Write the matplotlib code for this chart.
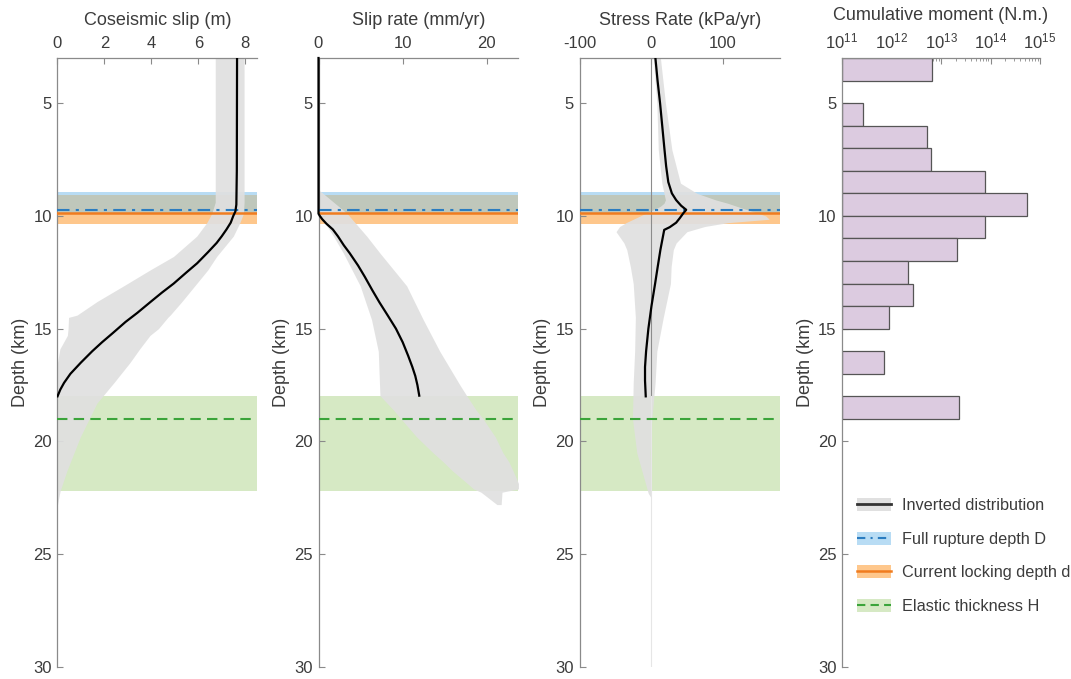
import numpy as np
import matplotlib
matplotlib.use('Agg')
import matplotlib.pyplot as plt
from matplotlib.patches import Patch
from matplotlib.lines import Line2D
from matplotlib.ticker import LogLocator, NullFormatter

plt.rcParams['font.family'] = ['Liberation Sans', 'DejaVu Sans']
plt.rcParams['axes.unicode_minus'] = False

TXT = '#3c3c3c'
SPINE = '#8a8a8a'

# coseismic slip (m) vs depth (km)
slip_depth = [3, 8, 9.5, 9.8, 10.0, 10.3, 10.6, 10.9, 11.2, 11.6, 12.1, 12.5, 13.0, 13.4, 13.8,
              14.3, 14.7, 15.2, 15.6, 16.0, 16.5, 17.0, 17.4, 17.7, 18.0]
slip_mean = [7.65, 7.64, 7.62, 7.58, 7.49, 7.38, 7.2, 7.0, 6.78, 6.42, 5.95, 5.5, 4.95, 4.45, 3.98,
             3.4, 2.9, 2.35, 1.9, 1.48, 1.0, 0.55, 0.28, 0.12, 0.0]
slip_band_depth = [3, 9.4, 9.9, 10.3, 10.9, 11.8, 12.4, 13.1, 13.8, 14.4, 14.5, 15.0, 15.3, 15.9,
                   16.5, 17.4, 18.3, 19.8, 21.3, 22.2, 22.8]
slip_hi = [7.95, 7.95, 7.92, 7.77, 7.49, 6.78, 6.4, 5.85, 5.3, 4.8, 4.7, 4.3, 3.94, 3.5,
           3.09, 2.4, 1.68, 0.97, 0.4, 0.11, 0.0]
slip_lo = [6.72, 6.72, 6.57, 6.36, 5.93, 4.94, 3.94, 2.82, 1.68, 0.83, 0.47, 0.45, 0.42, 0.1,
           0, 0, 0, 0, 0, 0, 0]

# slip rate (mm/yr)
rate_depth = [3, 9.9, 10.0, 10.15, 10.35, 10.6, 10.9, 11.3, 11.65, 12.2, 12.7, 13.3, 13.84,
              14.4, 15.0, 15.6, 16.2, 16.7, 17.1, 17.5, 17.97]
rate_mean = [0, 0, 0.15, 0.45, 0.95, 1.7, 2.3, 3.0, 3.7, 4.7, 5.5, 6.4, 7.25,
             8.2, 9.2, 10.0, 10.65, 11.15, 11.5, 11.75, 11.97]
rate_band_depth = [8.9, 9.88, 10.9, 11.65, 13.1, 14.6, 16.0, 17.5, 17.97, 18.6, 19.0, 19.8,
                   20.5, 20.9, 21.3, 21.9, 22.1, 22.25, 22.8]
rate_hi = [0.2, 3.36, 5.73, 7.3, 10.47, 12.44, 14.4, 16.8, 17.6, 18.7, 19.55, 21.0,
           21.9, 22.6, 23.1, 23.8, 23.8, 21.8, 21.7]
rate_lo = [0, 0, 1.78, 2.95, 4.95, 6.3, 7.1, 7.25, 7.3, 8.9, 9.8, 11.66,
           13.6, 14.8, 15.9, 17.8, 18.4, 19.3, 21.2]

# stress rate (kPa/yr)
stress_depth = [3, 4, 5, 6, 7, 7.8, 8.5, 9.0, 9.3, 9.55, 9.73, 9.88, 10.1, 10.3, 10.5, 10.62,
                11.5, 12.3, 13.0, 14.0, 15.0, 16.0, 16.7, 17.3, 18.0]
stress_mean = [6, 9, 12.5, 15.5, 18.5, 21, 24, 29, 35, 42, 49, 45, 40, 35, 26, 18.3,
               13, 9, 5.6, 0.5, -3.8, -7, -8.5, -8.5, -7.5]
stress_band_depth = [3, 5, 7.07, 8.55, 9.0, 9.29, 9.44, 9.58, 10.0, 10.15, 10.3, 10.47, 10.7,
                     11.2, 11.5, 12.25, 13.0, 14.5, 16.0, 17.4, 19.0, 20.5, 22.3, 22.5]
stress_hi = [13, 20, 29, 41, 64, 90, 107, 120, 160, 165, 107, 75, 50,
             35, 31, 28, 27, 17, 8, 5.6, 1, -1.4, 0, 0]
stress_lo = [3, 8, 10, 15, 18, 20, 18, 12.7, -15, -25, -35, -44, -49,
             -38, -34, -29, -25, -22, -23, -25, -26, -20, -4, 0]

# cumulative moment per 1-km depth bin (top of bin, N.m)
bin_top = [3, 5, 6, 7, 8, 9, 10, 11, 12, 13, 14, 16, 18]
moment = [6.7e12, 2.7e11, 5.2e12, 6.3e12, 7.6e13, 5.5e14, 7.9e13, 2.1e13, 2.2e12, 2.7e12,
          8.9e11, 7.1e11, 2.3e13]

# reference depths (km)
D_band = (8.93, 9.9)
D_depth = 9.73
d_band = (9.06, 10.35)
d_depth = 9.88
H_band = (18.0, 22.2)
H_depth = 19.0

C_gray = '#e0e0e0'
C_blue_band, C_blue = '#b8dcf4', '#2a7cc0'
C_orange_band, C_orange = '#fec78c', '#f07c1f'
C_green_band, C_green = '#d6e9c4', '#3ba43a'
C_overlap = '#bfc7bb'

fig = plt.figure(figsize=(10.71, 6.79), dpi=100)
W, Hpx = 1071, 679
lefts = [57.5, 318.5, 579.5, 842]
widths = [199.5, 199.5, 200.5, 198]
top_px, bot_px = 58, 667
axes = [fig.add_axes([l / W, 1 - bot_px / Hpx, w / W, (bot_px - top_px) / Hpx])
        for l, w in zip(lefts, widths)]


def style(ax, title):
    for s in ['right', 'bottom']:
        ax.spines[s].set_visible(False)
    for s in ['left', 'top']:
        ax.spines[s].set_color(SPINE)
        ax.spines[s].set_linewidth(0.9)
    ax.xaxis.set_ticks_position('top')
    ax.xaxis.set_label_position('top')
    ax.set_ylim(30, 3)
    ax.set_yticks([5, 10, 15, 20, 25, 30])
    ax.tick_params(axis='both', which='both', direction='in', colors=SPINE,
                   labelcolor=TXT, labelsize=12)
    ax.tick_params(axis='x', which='major', length=4, pad=5)
    ax.tick_params(axis='y', which='major', length=4, pad=4)
    ax.set_xlabel(title, fontsize=13, color=TXT, labelpad=8)
    ax.set_ylabel('Depth (km)', fontsize=13, color=TXT, labelpad=3)


def bands(ax):
    ax.axhspan(*D_band, color=C_blue_band, lw=0, zorder=1)
    ax.axhspan(*d_band, color=C_orange_band, lw=0, zorder=1.1)
    ax.axhspan(max(D_band[0], d_band[0]), min(D_band[1], d_band[1]),
               color=C_overlap, lw=0, zorder=1.2)
    ax.axhspan(*H_band, color=C_green_band, lw=0, zorder=1)


def ref_lines(ax):
    ax.axhline(D_depth, color=C_blue, lw=1.5, dashes=(6, 3, 1.5, 3), zorder=3)
    ax.axhline(d_depth, color=C_orange, lw=1.8, zorder=3)
    ax.axhline(H_depth, color=C_green, lw=1.5, dashes=(5, 3), zorder=3)


# panel 1
ax = axes[0]
bands(ax)
ax.fill_betweenx(slip_band_depth, slip_lo, slip_hi, color=C_gray, alpha=0.92, lw=0, zorder=2)
ref_lines(ax)
ax.plot(slip_mean, slip_depth, color='k', lw=1.6, zorder=4)
ax.set_xlim(0, 8.5)
ax.set_xticks([0, 2, 4, 6, 8])
style(ax, 'Coseismic slip (m)')

# panel 2
ax = axes[1]
bands(ax)
ax.fill_betweenx(rate_band_depth, rate_lo, rate_hi, color=C_gray, alpha=0.92, lw=0, zorder=2)
ref_lines(ax)
ax.plot(rate_mean, rate_depth, color='k', lw=1.6, zorder=4, clip_on=False)
ax.set_xlim(0, 23.7)
ax.set_xticks([0, 10, 20])
style(ax, 'Slip rate (mm/yr)')

# panel 3
ax = axes[2]
bands(ax)
ax.fill_betweenx(stress_band_depth, stress_lo, stress_hi, color=C_gray, alpha=0.92, lw=0, zorder=2)
ax.plot([0, 0], [3, 18], color='#8c8c8c', lw=0.8, zorder=2.5)
ax.plot([0, 0], [18, 30], color='#e6e6e6', lw=0.8, zorder=2.5)
ref_lines(ax)
ax.plot(stress_mean, stress_depth, color='k', lw=1.6, zorder=4)
ax.set_xlim(-100, 180)
ax.set_xticks([-100, 0, 100])
ax.set_xticklabels(['-100', '0', '100'])
style(ax, 'Stress Rate (kPa/yr)')

# panel 4
ax = axes[3]
ax.set_xscale('log')
ax.barh(bin_top, np.array(moment) - 1e11, height=1, left=1e11, align='edge',
        color='#dccbe0', edgecolor='#555555', lw=0.9, zorder=2)
ax.set_xlim(1e11, 1e15)
ax.xaxis.set_major_locator(LogLocator(base=10, numticks=10))
ax.xaxis.set_minor_locator(LogLocator(base=10, subs=np.arange(2, 10), numticks=20))
ax.xaxis.set_minor_formatter(NullFormatter())
style(ax, 'Cumulative moment (N.m.)')
ax.tick_params(axis='x', which='minor', length=2.5)

handles = [
    (Patch(color=C_gray, lw=0), Line2D([], [], color='#333333', lw=2)),
    (Patch(color=C_blue_band, lw=0), Line2D([], [], color=C_blue, lw=1.5, dashes=(4, 2.5, 1, 2.5))),
    (Patch(color=C_orange_band, lw=0), Line2D([], [], color=C_orange, lw=1.8)),
    (Patch(color=C_green_band, lw=0), Line2D([], [], color=C_green, lw=1.5, dashes=(4, 2.5))),
]
labels = ['Inverted distribution', 'Full rupture depth D', 'Current locking depth d',
          'Elastic thickness H']
leg = fig.legend(handles, labels, loc='upper left', bbox_to_anchor=(857 / W, 1 - 498 / Hpx),
                 frameon=False, fontsize=11.7, handlelength=2.1, handleheight=0.85,
                 handletextpad=0.7, labelspacing=1.14, borderpad=0, borderaxespad=0)
for t in leg.get_texts():
    t.set_color(TXT)

fig.savefig('out.png', dpi=100)
